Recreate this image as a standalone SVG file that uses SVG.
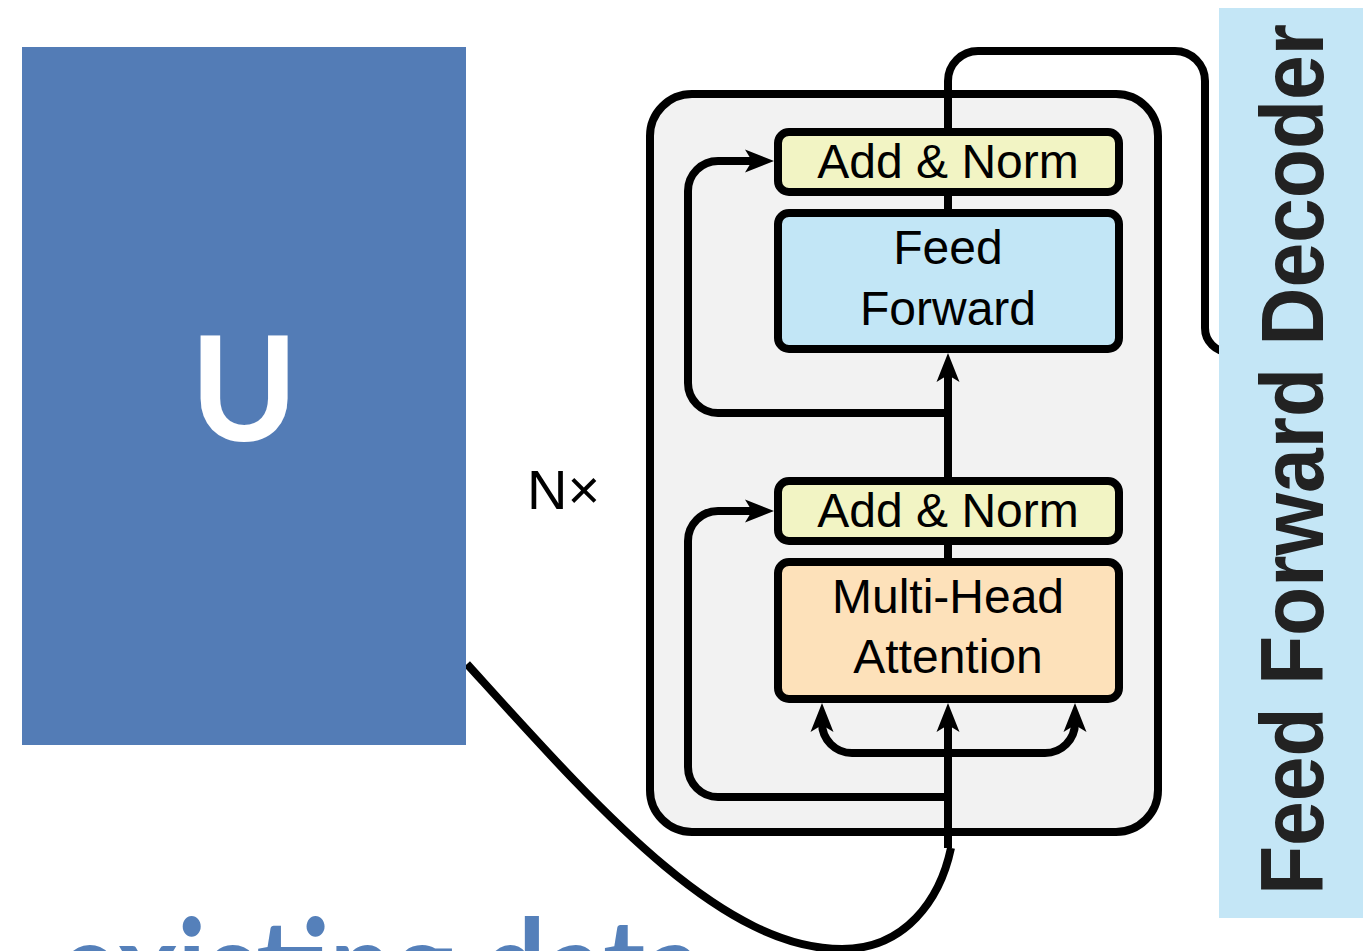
<svg xmlns="http://www.w3.org/2000/svg" width="1363" height="951" viewBox="0 0 1363 951">
  <style>
    .wire { fill: none; stroke: #000; stroke-width: 8; stroke-linecap: butt; stroke-linejoin: round; }
    .block { stroke: #000; stroke-width: 8; }
    .lbl { font-family: "Liberation Sans", Arial, Helvetica, sans-serif; font-size: 48px; fill: #000; text-anchor: middle; }
    .norm { fill: #F2F4C4; }
    .ffn { fill: #C2E6F6; }
    .mha { fill: #FDE1BA; }
  </style>
  <defs>
    <marker id="head" markerUnits="userSpaceOnUse" orient="auto" refX="0" refY="0" markerWidth="40" markerHeight="40" overflow="visible">
      <path d="M20,0 L-9,-11.5 L-2,0 L-9,11.5 Z" fill="#000"/>
    </marker>
  </defs>

  <rect width="1363" height="951" fill="#fff"/>

  <!-- caption running off the bottom edge -->
  <text x="58" y="1014" font-family="Lato, 'Open Sans', sans-serif" font-weight="700" font-size="132" fill="#5580BA" textLength="645" lengthAdjust="spacingAndGlyphs">existing data</text>

  <!-- repeated layer container -->
  <g id="layer-stack">
    <rect x="650" y="94" width="508" height="738" rx="42" ry="42" fill="#F2F2F2" stroke="#000" stroke-width="8"/>
  </g>

  <g id="connectors">
    <!-- input curve from U into the stack -->
    <path class="wire" d="M467,664 C595,805 720,949 842,949 C905,949 940,900 951,848"/>
    <!-- main path into attention -->
    <path class="wire" d="M948,848 L948,723" marker-end="url(#head)"/>
    <!-- attention side inputs -->
    <path class="wire" d="M948,753 L852,753 A30,30 0 0 1 822,723" marker-end="url(#head)"/>
    <path class="wire" d="M948,753 L1045,753 A30,30 0 0 0 1075,723" marker-end="url(#head)"/>
    <!-- residual around attention -->
    <path class="wire" d="M948,797 L718,797 A30,30 0 0 1 688,767 L688,541 A30,30 0 0 1 718,511 L754,511" marker-end="url(#head)"/>
    <!-- attention to add & norm -->
    <path class="wire" d="M948,562 L948,541"/>
    <!-- add & norm to feed forward -->
    <path class="wire" d="M948,481 L948,373" marker-end="url(#head)"/>
    <!-- residual around feed forward -->
    <path class="wire" d="M948,413 L718,413 A30,30 0 0 1 688,383 L688,191 A30,30 0 0 1 718,161 L754,161" marker-end="url(#head)"/>
    <!-- feed forward to add & norm -->
    <path class="wire" d="M948,213 L948,192"/>
    <!-- output to the decoder -->
    <path class="wire" d="M948,132 L948,81 A30,30 0 0 1 978,51 L1175,51 A30,30 0 0 1 1205,81 L1205,328 A24,24 0 0 0 1229,352 L1240,352"/>
  </g>

  <g id="add-norm-top">
    <rect class="block norm" x="778" y="132" width="341" height="60" rx="11" ry="11"/>
    <text class="lbl" x="948" y="178">Add &amp; Norm</text>
  </g>

  <g id="feed-forward">
    <rect class="block ffn" x="778" y="213" width="341" height="136" rx="11" ry="11"/>
    <text class="lbl" x="948" y="264">Feed</text>
    <text class="lbl" x="948" y="325">Forward</text>
  </g>

  <g id="add-norm-bottom">
    <rect class="block norm" x="778" y="481" width="341" height="60" rx="11" ry="11"/>
    <text class="lbl" x="948" y="527">Add &amp; Norm</text>
  </g>

  <g id="multi-head-attention">
    <rect class="block mha" x="778" y="562" width="341" height="137" rx="11" ry="11"/>
    <text class="lbl" x="948" y="613">Multi-Head</text>
    <text class="lbl" x="948" y="673">Attention</text>
  </g>

  <g id="repeat-label">
    <text x="527" y="509" font-family="'Liberation Sans', Arial, sans-serif" font-size="56" fill="#000">N×</text>
  </g>

  <g id="u-block">
    <rect x="22" y="47" width="444" height="698" fill="#537CB6"/>
    <text x="244" y="441" font-family="Lato, 'Open Sans', sans-serif" font-weight="700" font-size="145" fill="#fff" text-anchor="middle">U</text>
  </g>

  <g id="decoder-block">
    <rect x="1219" y="8" width="144" height="910" fill="#C4E6F6"/>
    <text transform="translate(1323,895) rotate(-90) scale(1,1.1)" x="0" y="0" font-family="'Liberation Sans', Arial, sans-serif" font-weight="700" font-size="80" fill="#222" textLength="871" lengthAdjust="spacingAndGlyphs">Feed Forward Decoder</text>
  </g>
</svg>
